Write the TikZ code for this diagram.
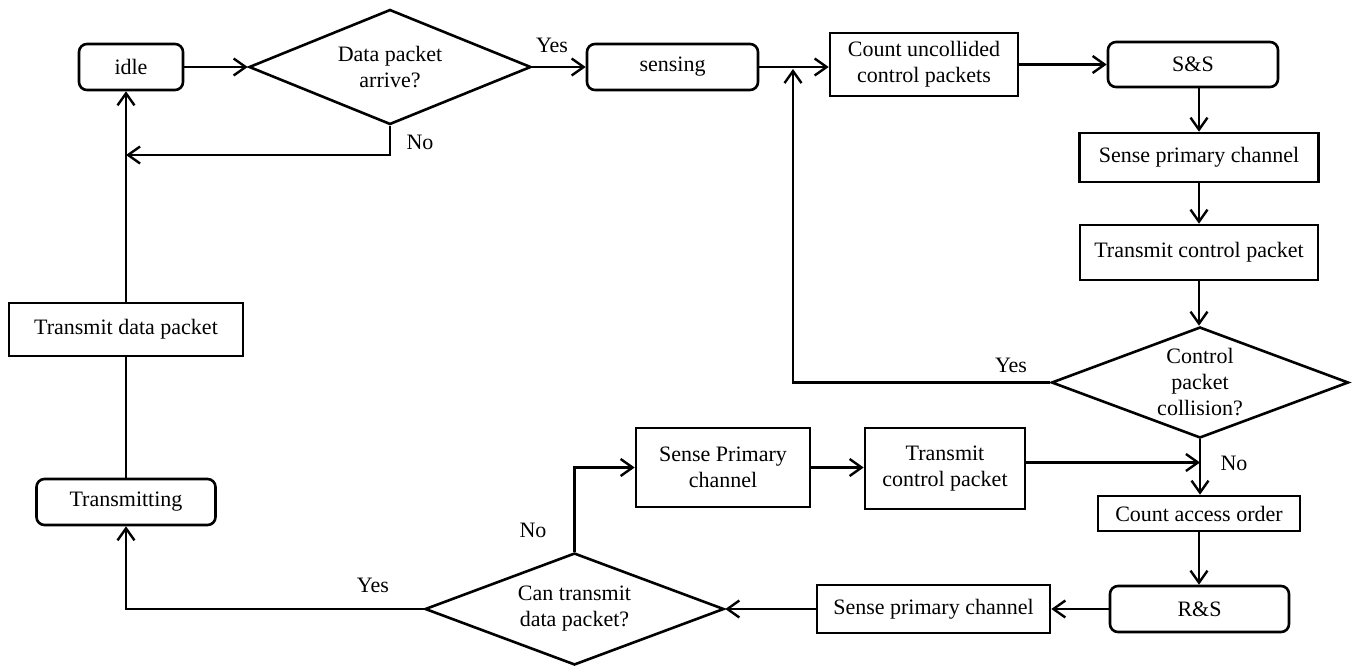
\documentclass[tikz,border=0pt]{standalone}
\usepackage{fontspec}
\setmainfont{Liberation Serif}
\usetikzlibrary{arrows.meta,shapes.geometric}
\begin{document}
\begin{tikzpicture}[x=1pt,y=-1pt,
  every node/.style={font=\fontsize{22}{26}\selectfont, align=center, inner sep=0pt},
  rbox/.style={draw, line width=2.6pt, rounded corners=8pt},
  sbox/.style={draw, line width=2.6pt},
  dec/.style={draw, diamond, aspect=2.5, line width=2.6pt},
  ln/.style={line width=2.4pt},
  arr/.style={line width=2.4pt, -{Straight Barb[length=12pt,width=17pt]}},
  lbl/.style={}]
\useasboundingbox (0,0) rectangle (1360,667);

% nodes
\node[rbox, minimum width=104pt, minimum height=46pt] (idle) at (131,67) {idle};
\node[dec, minimum width=282pt, minimum height=115pt] (d1) at (390,67) {Data packet\\arrive?};
\node[rbox, minimum width=171pt, minimum height=46pt] (sensing) at (672.5,67) {sensing};
\node[sbox, minimum width=188pt, minimum height=63pt] (cu) at (924,64.5) {Count uncollided\\control packets};
\node[rbox, minimum width=170pt, minimum height=45pt] (ss) at (1193,64.5) {S\&S};
\node[sbox, minimum width=239pt, minimum height=49pt] (sp1) at (1199,157.5) {Sense primary channel};
\node[sbox, minimum width=238pt, minimum height=55pt] (tcp1) at (1199,252.5) {Transmit control packet};
\node[dec, minimum width=297pt, minimum height=111pt] (d2) at (1200,382.5) {Control\\packet\\collision?};
\node[sbox, minimum width=202pt, minimum height=35pt] (cao) at (1199,513.5) {Count access order};
\node[rbox, minimum width=179pt, minimum height=46pt] (rs) at (1199.5,609) {R\&S};
\node[sbox, minimum width=233pt, minimum height=48pt] (sp2) at (933.5,609) {Sense primary channel};
\node[dec, minimum width=299pt, minimum height=112pt] (d3) at (574.5,609) {Can transmit\\data packet?};
\node[sbox, minimum width=174pt, minimum height=79pt] (spc) at (723,467.5) {Sense Primary\\channel};
\node[sbox, minimum width=160pt, minimum height=81pt] (tcp2) at (945,468.5) {Transmit\\control packet};
\node[rbox, minimum width=179pt, minimum height=46pt] (tr) at (126,502) {Transmitting};
\node[sbox, minimum width=234pt, minimum height=53pt] (tdp) at (126,329.5) {Transmit data packet};

% labels
\node[lbl] (yes1) at (552,45) {Yes};
\node[lbl] (no1) at (420,142) {No};
\node[lbl] (yes2) at (1011,365) {Yes};
\node[lbl] (no2) at (1234,463) {No};
\node[lbl] (no3) at (533,530) {No};
\node[lbl] (yes3) at (373,585) {Yes};

\coordinate (j) at (793,69);

% connectors
\draw[arr] (idle.east) -- (d1.west);
\draw[arr] (d1.east) -- (sensing.west);
\draw[arr] (sensing.east) -- (sensing.east -| cu.west);
\draw[arr] (d2.west) -| (j);
\draw[arr] (cu.east) -- (cu.east -| ss.west);
\draw[arr] (ss.south -| sp1.north) -- (sp1.north);
\draw[arr] (sp1.south) -- (tcp1.north);
\draw[arr] (tcp1.south) -- (tcp1.south |- d2.north);
\draw[arr] (d2.south) -- (d2.south |- cao.north);
\draw[arr] ([yshift=6pt]tcp2.east) -- ([yshift=6pt]tcp2.east -| d2.south);
\draw[arr] (cao.south) -- (cao.south |- rs.north);
\draw[arr] (rs.west) -- (sp2.east);
\draw[arr] (sp2.west) -- (d3.east);
\draw[arr] (d3.north) |- (spc.west);
\draw[arr] (spc.east) -- (spc.east -| tcp2.west);
\draw[arr] (d3.west) -| (tr.south);
\draw[ln] (tr.north) -- (tdp.south);
\draw[arr] (tdp.north) -- (tdp.north |- idle.south);
\draw[arr] (d1.south) |- (tdp.north |- 0,155);
\end{tikzpicture}
\end{document}
